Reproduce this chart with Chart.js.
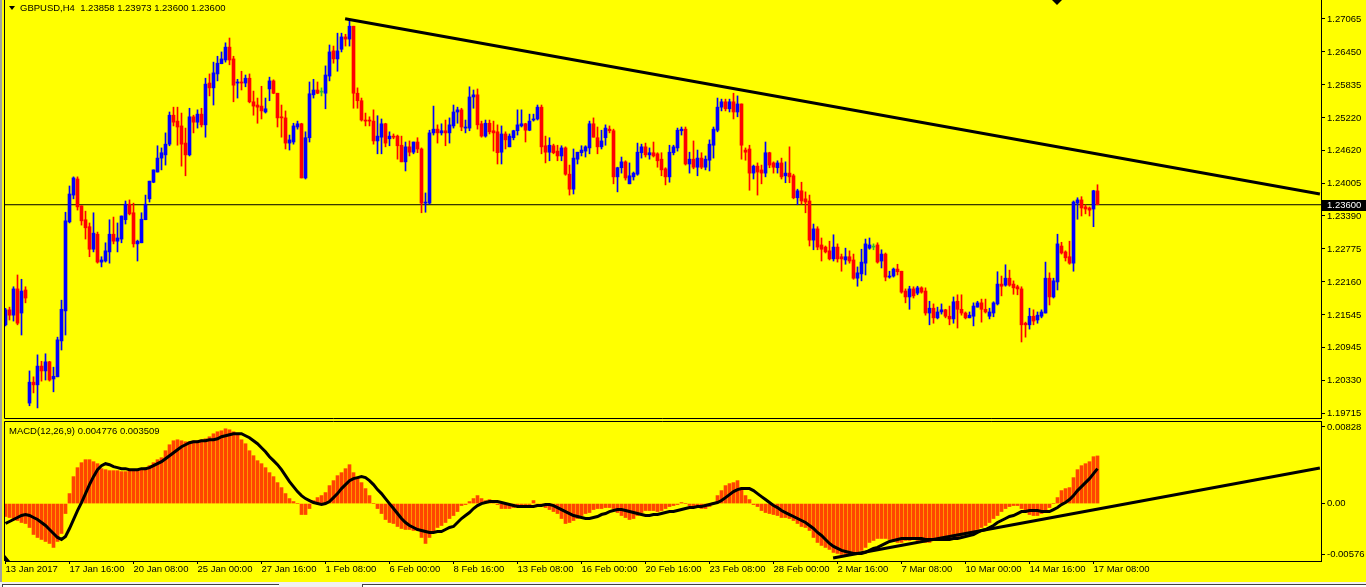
<!DOCTYPE html>
<html>
<head>
<meta charset="utf-8">
<title>GBPUSD,H4</title>
<script src="https://cdn.jsdelivr.net/npm/chart.js@4.4.1/dist/chart.umd.min.js"></script>
<style>
  html, body { margin: 0; padding: 0; }
  body {
    position: relative; width: 1366px; height: 587px; overflow: hidden;
    background: #ffff00; color: #000;
    font-family: 'Liberation Sans', Arial, sans-serif;
  }
  canvas { position: absolute; left: 0; }
  #priceChart { top: 0; }
  #macdChart { top: 420px; }
  .label { position: absolute; font-size: 9.5px; line-height: 11px; white-space: pre; }
  #title { left: 20px; top: 2px; }
  #macdTitle { left: 9px; top: 425px; }
  .tri { position: absolute; width: 0; height: 0; }
  #titleTri { left: 9px; top: 6px; border-left: 3px solid transparent; border-right: 3px solid transparent; border-top: 4px solid #000; }
  #shiftTri { left: 1052px; top: 0; border-left: 5px solid transparent; border-right: 5px solid transparent; border-top: 5px solid #000; }
  #cornerTri { left: 5px; top: 555px; border-bottom: 6px solid #000; border-right: 5px solid transparent; }
  #edge { position: absolute; left: 0; top: 0; width: 2px; height: 582px; background: #a0a0a0; }
  #tabs { position: absolute; left: 0; top: 582px; width: 1366px; height: 5px; background: #f0f0f0; }
  .tab { position: absolute; top: 2px; height: 3px; background: #fff; border-top: 1px solid #404040; border-left: 1px solid #404040; }
</style>
</head>
<body>
<canvas id="priceChart" width="1366" height="420"></canvas>
<canvas id="macdChart" width="1366" height="162"></canvas>
<div id="edge"></div>
<div class="tri" id="titleTri"></div>
<div class="label" id="title"></div>
<div class="label" id="macdTitle"></div>
<div class="tri" id="shiftTri"></div>
<div class="tri" id="cornerTri"></div>
<div id="tabs">
  <div class="tab" style="left:2px;width:276px"></div>
  <div class="tab" style="left:362px;width:1004px"></div>
</div>
<script>
// GBPUSD H4, 13 Jan 2017 00:00 .. 17 Mar 2017 12:00 (274 bars)
const symbol = 'GBPUSD';
const period = 'H4';

const opens = [
  1.2136,1.2164,1.2154,1.2203,1.2158,1.2201,1.1990,1.2029,1.2024,1.2059,
  1.2050,1.2067,1.2035,1.2039,1.2106,1.2162,1.2328,1.2378,1.2408,1.2358,
  1.2332,1.2319,1.2277,1.2305,1.2253,1.2255,1.2272,1.2305,1.2292,1.2296,
  1.2332,1.2361,1.2345,1.2287,1.2289,1.2332,1.2371,1.2402,1.2421,1.2447,
  1.2453,1.2473,1.2527,1.2516,1.2507,1.2475,1.2453,1.2524,1.2514,1.2529,
  1.2509,1.2587,1.2578,1.2604,1.2623,1.2630,1.2654,1.2632,1.2587,1.2589,
  1.2587,1.2596,1.2552,1.2546,1.2544,1.2533,1.2576,1.2591,1.2568,1.2524,
  1.2522,1.2475,1.2477,1.2505,1.2511,1.2410,1.2485,1.2565,1.2574,1.2570,
  1.2568,1.2600,1.2647,1.2632,1.2650,1.2673,1.2669,1.2693,1.2568,1.2554,
  1.2518,1.2518,1.2516,1.2479,1.2486,1.2511,1.2483,1.2488,1.2488,1.2471,
  1.2440,1.2468,1.2458,1.2477,1.2464,1.2363,1.2363,1.2494,1.2501,1.2494,
  1.2498,1.2494,1.2507,1.2533,1.2537,1.2503,1.2503,1.2561,1.2565,1.2511,
  1.2488,1.2512,1.2498,1.2496,1.2458,1.2492,1.2468,1.2485,1.2498,1.2507,
  1.2511,1.2499,1.2518,1.2520,1.2542,1.2470,1.2458,1.2470,1.2460,1.2451,
  1.2466,1.2417,1.2389,1.2445,1.2457,1.2460,1.2466,1.2511,1.2485,1.2468,
  1.2485,1.2501,1.2498,1.2412,1.2429,1.2440,1.2399,1.2412,1.2417,1.2457,
  1.2468,1.2453,1.2457,1.2455,1.2445,1.2427,1.2412,1.2457,1.2466,1.2498,
  1.2501,1.2436,1.2445,1.2430,1.2447,1.2430,1.2443,1.2471,1.2499,1.2542,
  1.2552,1.2539,1.2552,1.2533,1.2548,1.2462,1.2464,1.2419,1.2432,1.2425,
  1.2419,1.2457,1.2438,1.2429,1.2438,1.2414,1.2419,1.2414,1.2373,1.2386,
  1.2371,1.2367,1.2294,1.2315,1.2285,1.2281,1.2274,1.2259,1.2281,1.2263,
  1.2257,1.2263,1.2257,1.2223,1.2231,1.2251,1.2279,1.2281,1.2285,1.2255,
  1.2268,1.2225,1.2227,1.2240,1.2236,1.2199,1.2188,1.2203,1.2195,1.2205,
  1.2199,1.2158,1.2167,1.2149,1.2160,1.2164,1.2152,1.2147,1.2180,1.2165,
  1.2158,1.2149,1.2152,1.2169,1.2177,1.2165,1.2152,1.2158,1.2175,1.2212,
  1.2210,1.2223,1.2212,1.2207,1.2203,1.2139,1.2136,1.2152,1.2145,1.2152,
  1.2158,1.2223,1.2188,1.2216,1.2283,1.2272,1.2263,1.2251,1.2363,1.2369,
  1.2356,1.2354,1.2352,1.23858
];
const highs = [
  1.2167,1.2169,1.2207,1.2229,1.2221,1.2207,1.2050,1.2039,1.2080,1.2068,
  1.2082,1.2068,1.2057,1.2113,1.2182,1.2346,1.2395,1.2412,1.2412,1.2358,
  1.2348,1.2326,1.2345,1.2309,1.2263,1.2289,1.2332,1.2337,1.2326,1.2339,
  1.2367,1.2369,1.2363,1.2294,1.2345,1.2378,1.2404,1.2425,1.2470,1.2466,
  1.2494,1.2533,1.2542,1.2542,1.2531,1.2503,1.2540,1.2527,1.2537,1.2540,
  1.2596,1.2604,1.2626,1.2637,1.2645,1.2662,1.2671,1.2637,1.2594,1.2609,
  1.2602,1.2604,1.2572,1.2559,1.2581,1.2559,1.2598,1.2593,1.2568,1.2546,
  1.2535,1.2490,1.2512,1.2516,1.2512,1.2496,1.2589,1.2594,1.2589,1.2578,
  1.2619,1.2658,1.2656,1.2680,1.2680,1.2678,1.2705,1.2693,1.2578,1.2559,
  1.2531,1.2524,1.2537,1.2526,1.2520,1.2512,1.2496,1.2492,1.2490,1.2488,
  1.2477,1.2479,1.2477,1.2485,1.2466,1.2382,1.2499,1.2544,1.2509,1.2511,
  1.2518,1.2522,1.2546,1.2542,1.2540,1.2518,1.2580,1.2574,1.2576,1.2516,
  1.2518,1.2518,1.2516,1.2509,1.2507,1.2496,1.2492,1.2499,1.2537,1.2537,
  1.2512,1.2529,1.2529,1.2546,1.2546,1.2488,1.2485,1.2473,1.2471,1.2470,
  1.2468,1.2434,1.2464,1.2458,1.2470,1.2470,1.2516,1.2522,1.2505,1.2499,
  1.2509,1.2507,1.2501,1.2430,1.2449,1.2442,1.2438,1.2421,1.2475,1.2473,
  1.2475,1.2466,1.2477,1.2457,1.2457,1.2429,1.2471,1.2471,1.2503,1.2505,
  1.2505,1.2458,1.2479,1.2462,1.2457,1.2451,1.2481,1.2505,1.2559,1.2557,
  1.2557,1.2557,1.2568,1.2563,1.2548,1.2466,1.2471,1.2434,1.2438,1.2434,
  1.2477,1.2458,1.2440,1.2442,1.2447,1.2440,1.2468,1.2417,1.2389,1.2402,
  1.2384,1.2378,1.2324,1.2319,1.2298,1.2283,1.2292,1.2304,1.2287,1.2268,
  1.2279,1.2274,1.2268,1.2244,1.2277,1.2296,1.2298,1.2287,1.2289,1.2276,
  1.2270,1.2236,1.2242,1.2249,1.2236,1.2203,1.2208,1.2207,1.2208,1.2207,
  1.2205,1.2180,1.2175,1.2169,1.2175,1.2165,1.2171,1.2188,1.2192,1.2192,
  1.2160,1.2160,1.2177,1.2180,1.2184,1.2184,1.2167,1.2179,1.2235,1.2227,
  1.2248,1.2238,1.2218,1.2210,1.2207,1.2141,1.2167,1.2164,1.2160,1.2164,
  1.2253,1.2233,1.2223,1.2305,1.2290,1.2274,1.2292,1.2367,1.2373,1.2375,
  1.2360,1.2356,1.2387,1.23973
];
const lows = [
  1.2134,1.2145,1.2143,1.2136,1.2117,1.2177,1.1985,1.2009,1.1981,1.2031,
  1.2033,1.2031,1.2011,1.2039,1.2089,1.2117,1.2326,1.2371,1.2350,1.2322,
  1.2296,1.2263,1.2272,1.2251,1.2244,1.2253,1.2251,1.2287,1.2272,1.2289,
  1.2324,1.2341,1.2281,1.2255,1.2289,1.2332,1.2365,1.2401,1.2421,1.2425,
  1.2434,1.2470,1.2507,1.2471,1.2432,1.2414,1.2451,1.2494,1.2503,1.2505,
  1.2486,1.2563,1.2546,1.2591,1.2623,1.2626,1.2621,1.2552,1.2559,1.2574,
  1.2580,1.2550,1.2527,1.2512,1.2520,1.2531,1.2554,1.2567,1.2505,1.2486,
  1.2464,1.2462,1.2473,1.2501,1.2410,1.2408,1.2477,1.2559,1.2567,1.2563,
  1.2539,1.2591,1.2624,1.2609,1.2645,1.2656,1.2656,1.2540,1.2540,1.2516,
  1.2507,1.2507,1.2473,1.2455,1.2455,1.2468,1.2470,1.2483,1.2445,1.2440,
  1.2423,1.2451,1.2455,1.2457,1.2345,1.2346,1.2361,1.2490,1.2475,1.2490,
  1.2470,1.2475,1.2503,1.2512,1.2498,1.2494,1.2498,1.2540,1.2501,1.2486,
  1.2486,1.2492,1.2460,1.2436,1.2436,1.2464,1.2468,1.2481,1.2490,1.2505,
  1.2477,1.2498,1.2516,1.2518,1.2455,1.2438,1.2442,1.2455,1.2442,1.2442,
  1.2415,1.2378,1.2380,1.2436,1.2451,1.2449,1.2455,1.2486,1.2455,1.2464,
  1.2471,1.2494,1.2399,1.2384,1.2419,1.2406,1.2399,1.2406,1.2415,1.2447,
  1.2449,1.2445,1.2449,1.2430,1.2414,1.2397,1.2402,1.2453,1.2460,1.2490,
  1.2434,1.2419,1.2427,1.2414,1.2427,1.2425,1.2423,1.2447,1.2496,1.2535,
  1.2535,1.2533,1.2520,1.2524,1.2445,1.2443,1.2387,1.2408,1.2378,1.2399,
  1.2412,1.2429,1.2419,1.2419,1.2408,1.2401,1.2401,1.2371,1.2360,1.2361,
  1.2345,1.2283,1.2276,1.2276,1.2255,1.2270,1.2257,1.2255,1.2253,1.2236,
  1.2249,1.2251,1.2221,1.2208,1.2218,1.2229,1.2277,1.2276,1.2251,1.2242,
  1.2218,1.2223,1.2225,1.2229,1.2195,1.2177,1.2165,1.2186,1.2192,1.2195,
  1.2154,1.2136,1.2139,1.2147,1.2156,1.2149,1.2136,1.2139,1.2130,1.2154,
  1.2147,1.2149,1.2134,1.2169,1.2141,1.2158,1.2147,1.2151,1.2173,1.2190,
  1.2208,1.2208,1.2193,1.2192,1.2104,1.2113,1.2128,1.2136,1.2139,1.2149,
  1.2158,1.2173,1.2186,1.2201,1.2268,1.2255,1.2249,1.2236,1.2333,1.2339,
  1.2343,1.2339,1.2319,1.23600
];
const closes = [
  1.2164,1.2154,1.2203,1.2139,1.2199,1.2186,1.2029,1.2024,1.2059,1.2050,
  1.2067,1.2033,1.2040,1.2108,1.2165,1.2330,1.2380,1.2410,1.2356,1.2330,
  1.2317,1.2277,1.2307,1.2253,1.2257,1.2274,1.2305,1.2292,1.2298,1.2339,
  1.2361,1.2343,1.2287,1.2292,1.2333,1.2361,1.2404,1.2425,1.2447,1.2457,
  1.2473,1.2527,1.2514,1.2505,1.2473,1.2453,1.2524,1.2514,1.2529,1.2509,
  1.2585,1.2578,1.2606,1.2624,1.2632,1.2654,1.2630,1.2583,1.2589,1.2587,
  1.2596,1.2552,1.2544,1.2542,1.2535,1.2539,1.2591,1.2568,1.2522,1.2522,
  1.2475,1.2481,1.2507,1.2511,1.2410,1.2485,1.2567,1.2574,1.2568,1.2570,
  1.2602,1.2645,1.2632,1.2647,1.2673,1.2669,1.2693,1.2568,1.2554,1.2518,
  1.2516,1.2516,1.2479,1.2488,1.2511,1.2475,1.2488,1.2486,1.2470,1.2440,
  1.2468,1.2458,1.2477,1.2464,1.2363,1.2365,1.2494,1.2501,1.2494,1.2498,
  1.2494,1.2509,1.2533,1.2537,1.2505,1.2505,1.2561,1.2565,1.2509,1.2488,
  1.2512,1.2496,1.2494,1.2457,1.2492,1.2481,1.2488,1.2498,1.2509,1.2511,
  1.2499,1.2516,1.2520,1.2542,1.2468,1.2458,1.2471,1.2457,1.2451,1.2466,
  1.2417,1.2389,1.2447,1.2458,1.2462,1.2468,1.2511,1.2486,1.2468,1.2479,
  1.2503,1.2498,1.2412,1.2429,1.2440,1.2410,1.2414,1.2419,1.2458,1.2468,
  1.2453,1.2457,1.2451,1.2442,1.2425,1.2412,1.2458,1.2468,1.2499,1.2501,
  1.2436,1.2445,1.2430,1.2447,1.2430,1.2445,1.2473,1.2501,1.2542,1.2552,
  1.2539,1.2552,1.2533,1.2548,1.2471,1.2458,1.2419,1.2432,1.2421,1.2419,
  1.2457,1.2434,1.2430,1.2438,1.2412,1.2419,1.2412,1.2373,1.2386,1.2367,
  1.2365,1.2294,1.2315,1.2281,1.2277,1.2272,1.2259,1.2281,1.2259,1.2259,
  1.2263,1.2255,1.2223,1.2233,1.2253,1.2287,1.2285,1.2281,1.2253,1.2268,
  1.2225,1.2227,1.2240,1.2235,1.2197,1.2188,1.2203,1.2190,1.2205,1.2197,
  1.2158,1.2167,1.2149,1.2160,1.2164,1.2152,1.2147,1.2179,1.2165,1.2158,
  1.2149,1.2154,1.2171,1.2177,1.2165,1.2160,1.2160,1.2177,1.2212,1.2208,
  1.2223,1.2210,1.2205,1.2203,1.2136,1.2136,1.2152,1.2143,1.2154,1.2160,
  1.2223,1.2188,1.2218,1.2287,1.2270,1.2261,1.2251,1.2365,1.2369,1.2354,
  1.2352,1.2350,1.2386,1.23600
];

// MACD(12,26,9): main line drawn as histogram, signal as line
const macdMain = [
  -0.0013,-0.0014,-0.0015,-0.0017,-0.0019,-0.0020,-0.0024,-0.0031,-0.0034,-0.0036,
  -0.0038,-0.0040,-0.0044,-0.0038,-0.0030,-0.0010,0.0010,0.0027,0.0036,0.0041,
  0.0044,0.0044,0.0042,0.0040,0.0035,0.0034,0.0033,0.0033,0.0033,0.0032,
  0.0032,0.0033,0.0033,0.0034,0.0035,0.0036,0.0038,0.0041,0.0044,0.0046,
  0.0053,0.0059,0.0063,0.0064,0.0063,0.0062,0.0062,0.0063,0.0063,0.0064,
  0.0065,0.0067,0.0070,0.0072,0.0073,0.0075,0.0074,0.0072,0.0069,0.0064,
  0.0060,0.0053,0.0048,0.0043,0.0040,0.0036,0.0031,0.0027,0.0021,0.0016,
  0.0010,0.0005,0.0002,0.0000,-0.0011,-0.0011,-0.0005,0.0003,0.0006,0.0008,
  0.0011,0.0018,0.0023,0.0028,0.0031,0.0035,0.0039,0.0031,0.0026,0.0021,
  0.0015,0.0008,0.0000,-0.0005,-0.0010,-0.0016,-0.0019,-0.0020,-0.0023,-0.0025,
  -0.0026,-0.0026,-0.0027,-0.0027,-0.0034,-0.0040,-0.0034,-0.0029,-0.0024,-0.0022,
  -0.0019,-0.0015,-0.0012,-0.0008,-0.0002,-0.0001,0.0002,0.0005,0.0008,0.0005,
  0.0003,0.0004,0.0002,-0.0001,-0.0005,-0.0005,-0.0005,-0.0004,-0.0002,-0.0001,
  -0.0001,-0.0001,0.0003,-0.0001,-0.0002,-0.0004,-0.0006,-0.0008,-0.0010,-0.0015,
  -0.0020,-0.0019,-0.0017,-0.0015,-0.0012,-0.0010,-0.0009,-0.0006,-0.0005,-0.0005,
  -0.0004,-0.0004,-0.0005,-0.0009,-0.0012,-0.0014,-0.0016,-0.0015,-0.0012,-0.0009,
  -0.0007,-0.0007,-0.0007,-0.0008,-0.0007,-0.0005,-0.0003,-0.0002,-0.0001,0.0001,
  0.0000,-0.0002,-0.0003,-0.0004,-0.0005,-0.0005,-0.0003,0.0001,0.0008,0.0013,
  0.0018,0.0020,0.0021,0.0023,0.0016,0.0008,0.0004,-0.0001,-0.0003,-0.0007,
  -0.0009,-0.0010,-0.0011,-0.0012,-0.0014,-0.0014,-0.0015,-0.0017,-0.0020,-0.0023,
  -0.0024,-0.0027,-0.0034,-0.0039,-0.0042,-0.0044,-0.0046,-0.0049,-0.0050,-0.0051,
  -0.0052,-0.0052,-0.0050,-0.0049,-0.0047,-0.0044,-0.0039,-0.0037,-0.0035,-0.0035,
  -0.0035,-0.0036,-0.0038,-0.0039,-0.0039,-0.0037,-0.0037,-0.0036,-0.0037,-0.0037,
  -0.0039,-0.0039,-0.0037,-0.0037,-0.0035,-0.0035,-0.0034,-0.0034,-0.0034,-0.0032,
  -0.0030,-0.0030,-0.0029,-0.0026,-0.0024,-0.0022,-0.0019,-0.0015,-0.0012,-0.0008,
  -0.0005,-0.0003,-0.0002,-0.0002,-0.0005,-0.0009,-0.0011,-0.0012,-0.0012,-0.0010,
  -0.0007,-0.0004,0.0000,0.0006,0.0013,0.0015,0.0016,0.0026,0.0034,0.0038,
  0.0040,0.0042,0.0047,0.004776
];
const macdSignal = [
  -0.0020,-0.0018,-0.0016,-0.0014,-0.0012,-0.0011,-0.0012,-0.0014,-0.0016,-0.0019,
  -0.0022,-0.0026,-0.0030,-0.0034,-0.0036,-0.0033,-0.0025,-0.0016,-0.0007,0.0001,
  0.0010,0.0019,0.0027,0.0034,0.0038,0.0040,0.0039,0.0037,0.0036,0.0035,
  0.0035,0.0034,0.0034,0.0034,0.0035,0.0035,0.0036,0.0038,0.0040,0.0042,
  0.0045,0.0048,0.0051,0.0054,0.0057,0.0059,0.0061,0.0062,0.0062,0.0063,
  0.0063,0.0064,0.0064,0.0065,0.0067,0.0068,0.0069,0.0070,0.0070,0.0070,
  0.0068,0.0066,0.0063,0.0060,0.0056,0.0052,0.0047,0.0043,0.0039,0.0034,
  0.0028,0.0022,0.0017,0.0012,0.0008,0.0005,0.0003,0.0001,0.0000,-0.0001,
  0.0000,0.0002,0.0006,0.0010,0.0015,0.0019,0.0023,0.0025,0.0026,0.0027,
  0.0026,0.0023,0.0019,0.0014,0.0010,0.0005,0.0000,-0.0005,-0.0010,-0.0015,
  -0.0019,-0.0022,-0.0024,-0.0026,-0.0027,-0.0028,-0.0029,-0.0029,-0.0028,-0.0028,
  -0.0026,-0.0024,-0.0023,-0.0019,-0.0015,-0.0012,-0.0009,-0.0005,-0.0002,0.0000,
  0.0001,0.0002,0.0002,0.0002,0.0001,0.0000,-0.0001,-0.0002,-0.0003,-0.0003,
  -0.0003,-0.0003,-0.0003,-0.0002,-0.0002,-0.0001,-0.0001,-0.0002,-0.0004,-0.0006,
  -0.0008,-0.0010,-0.0012,-0.0013,-0.0014,-0.0015,-0.0015,-0.0014,-0.0013,-0.0011,
  -0.0010,-0.0008,-0.0007,-0.0006,-0.0006,-0.0007,-0.0008,-0.0009,-0.0010,-0.0011,
  -0.0012,-0.0012,-0.0011,-0.0011,-0.0010,-0.0009,-0.0008,-0.0008,-0.0007,-0.0006,
  -0.0005,-0.0004,-0.0004,-0.0003,-0.0003,-0.0002,-0.0001,0.0000,0.0001,0.0003,
  0.0006,0.0009,0.0012,0.0014,0.0015,0.0015,0.0015,0.0013,0.0010,0.0007,
  0.0004,0.0001,-0.0002,-0.0004,-0.0007,-0.0009,-0.0011,-0.0013,-0.0015,-0.0017,
  -0.0019,-0.0022,-0.0025,-0.0029,-0.0032,-0.0036,-0.0040,-0.0043,-0.0045,-0.0047,
  -0.0048,-0.0049,-0.0050,-0.0050,-0.0050,-0.0049,-0.0047,-0.0045,-0.0044,-0.0042,
  -0.0040,-0.0038,-0.0037,-0.0036,-0.0035,-0.0035,-0.0035,-0.0035,-0.0035,-0.0035,
  -0.0036,-0.0036,-0.0036,-0.0036,-0.0036,-0.0036,-0.0036,-0.0035,-0.0035,-0.0034,
  -0.0033,-0.0032,-0.0031,-0.0029,-0.0027,-0.0026,-0.0024,-0.0022,-0.0019,-0.0017,
  -0.0015,-0.0013,-0.0012,-0.0010,-0.0008,-0.0008,-0.0007,-0.0007,-0.0007,-0.0008,
  -0.0008,-0.0008,-0.0006,-0.0004,-0.0001,0.0001,0.0004,0.0008,0.0013,0.0017,
  0.0021,0.0025,0.0030,0.003509
];

// axis labels
const dateLabels = [
  '13 Jan 2017', '17 Jan 16:00', '20 Jan 08:00', '25 Jan 00:00', '27 Jan 16:00', '1 Feb 08:00',
  '6 Feb 00:00', '8 Feb 16:00', '13 Feb 08:00', '16 Feb 00:00', '20 Feb 16:00', '23 Feb 08:00',
  '28 Feb 00:00', '2 Mar 16:00', '7 Mar 08:00', '10 Mar 00:00', '14 Mar 16:00', '17 Mar 08:00'
];
const LABEL_STEP = 16; // bars between date labels
const priceTicks = [1.27065, 1.26450, 1.25835, 1.25220, 1.24620, 1.24005, 1.23390,
                    1.22775, 1.22160, 1.21545, 1.20945, 1.20330, 1.19715];
const macdTickLabels = ['0.00828', '0.00', '-0.00576'];

// hand drawn trend lines (bar index, value)
const trendMain = [{ x: 84.9, y: 1.2707 }, { x: 328.6, y: 1.2380 }];
const trendMacd = [{ x: 206.9, y: -0.00546 }, { x: 328.6, y: 0.00357 }];

// visible window
const X_MIN = -0.125, X_MAX = 328.875;   // includes the empty right shift area
const PRICE_MIN = 1.19622, PRICE_MAX = 1.27419;
const MACD_MIN = -0.00576, MACD_MAX = 0.00828;

const BULL = '#0000ff', BEAR = '#ff0000', DOJI = '#33bb33', HIST = '#ff4500';
const FONT = "'Liberation Sans', Arial, sans-serif";
const FONT_SIZE = 9.5;

Chart.defaults.font.family = FONT;
Chart.defaults.font.size = FONT_SIZE;
Chart.defaults.color = '#000';

const bars = opens.map((_, i) => i);
const candleColors = bars.map(i => closes[i] > opens[i] ? BULL : closes[i] < opens[i] ? BEAR : DOJI);
const lastClose = closes[closes.length - 1];

document.getElementById('title').textContent =
  symbol + ',' + period + '  ' + [opens, highs, lows, closes].map(a => a[a.length - 1].toFixed(5)).join(' ');
document.getElementById('macdTitle').textContent =
  'MACD(12,26,9) ' + macdMain[macdMain.length - 1].toFixed(6) + ' ' + macdSignal[macdSignal.length - 1].toFixed(6);

// window frame (left + bottom, or left + top for the sub window)
const framePlugin = {
  id: 'frame',
  afterDraw(chart, args, opts) {
    const { ctx, chartArea: a } = chart;
    ctx.save();
    ctx.strokeStyle = '#000';
    ctx.lineWidth = 1;
    ctx.beginPath();
    if (opts.top) {
      ctx.moveTo(a.right, a.top + 0.5);
      ctx.lineTo(a.left - 0.5, a.top + 0.5);
      ctx.lineTo(a.left - 0.5, a.bottom);
    } else {
      ctx.moveTo(a.left - 0.5, a.top);
      ctx.lineTo(a.left - 0.5, a.bottom + 0.5);
      ctx.lineTo(a.right, a.bottom + 0.5);
    }
    ctx.stroke();
    ctx.restore();
  }
};

// black bid price box on the price scale
const bidPlugin = {
  id: 'bid',
  afterDraw(chart) {
    const { ctx, chartArea: a, scales } = chart;
    const y = Math.round(scales.y.getPixelForValue(lastClose));
    ctx.save();
    ctx.fillStyle = '#000';
    ctx.fillRect(a.right + 1, y - 5, chart.width - a.right - 1, 11);
    ctx.fillStyle = '#fff';
    ctx.font = FONT_SIZE + 'px ' + FONT;
    ctx.textBaseline = 'middle';
    ctx.fillText(lastClose.toFixed(5), a.right + 6, y + 0.5);
    ctx.restore();
  }
};

const rightAxis = (min, max) => ({
  position: 'right', min: min, max: max, beginAtZero: false,
  grid: { display: true, drawOnChartArea: false, drawTicks: true, tickLength: 4, color: '#000' },
  border: { display: true, color: '#000' },
  ticks: { color: '#000', padding: 2, autoSkip: false },
  afterFit: s => { s.width = 45; s.paddingTop = 0; s.paddingBottom = 0; }
});

const common = {
  responsive: false, animation: false, devicePixelRatio: 1, events: [],
};

// price window
const priceY = rightAxis(PRICE_MIN, PRICE_MAX);
priceY.ticks.callback = v => v.toFixed(5);
priceY.afterBuildTicks = s => { s.ticks = priceTicks.map(v => ({ value: v })); };

new Chart(document.getElementById('priceChart'), {
  type: 'bar',
  data: {
    datasets: [
      { type: 'line', data: [{ x: X_MIN, y: lastClose }, { x: X_MAX, y: lastClose }],
        borderColor: '#000', borderWidth: 1, pointRadius: 0, order: 4 },
      { data: bars.map(i => ({ x: i, y: [lows[i], highs[i]] })),
        backgroundColor: candleColors, barThickness: 1, grouped: false, order: 3 },
      { data: bars.map(i => ({ x: i, y: [opens[i], closes[i]] })),
        backgroundColor: candleColors, barThickness: 3, minBarLength: 1, grouped: false, order: 2 },
      { type: 'line', data: trendMain, borderColor: '#000', borderWidth: 3, pointRadius: 0, order: 1 }
    ]
  },
  options: Object.assign({}, common, {
    layout: { padding: { left: 5, top: 0, right: 0, bottom: 2 } },
    plugins: { legend: { display: false }, tooltip: { enabled: false }, frame: { top: false } },
    scales: {
      x: { type: 'linear', min: X_MIN, max: X_MAX, offset: false, display: false },
      y: priceY
    }
  }),
  plugins: [framePlugin, bidPlugin]
});

// MACD window
const macdY = rightAxis(MACD_MIN, MACD_MAX);
macdY.ticks.callback = (v, i) => macdTickLabels[i];
// MT4 keeps the max/min labels just inside the window
macdY.afterBuildTicks = s => {
  s.ticks = [{ value: MACD_MAX - 0.0006 }, { value: 0 }, { value: MACD_MIN + 0.0007 }];
};

new Chart(document.getElementById('macdChart'), {
  type: 'bar',
  data: {
    datasets: [
      { data: bars.map(i => ({ x: i, y: macdMain[i] })),
        backgroundColor: HIST, barThickness: 3, grouped: false, order: 3 },
      { type: 'line', data: bars.map(i => ({ x: i, y: macdSignal[i] })),
        borderColor: '#000', borderWidth: 3, pointRadius: 0, order: 2 },
      { type: 'line', data: trendMacd, borderColor: '#000', borderWidth: 3, pointRadius: 0, order: 1 }
    ]
  },
  options: Object.assign({}, common, {
    layout: { padding: { left: 5, top: 1, right: 0, bottom: 0 } },
    plugins: { legend: { display: false }, tooltip: { enabled: false }, frame: { top: true } },
    scales: {
      x: {
        type: 'linear', min: X_MIN, max: X_MAX, offset: false,
        grid: { display: true, drawOnChartArea: false, drawTicks: true, tickLength: 3, color: '#000', offset: false },
        border: { display: true, color: '#000' },
        ticks: { color: '#000', padding: 0, align: 'start', maxRotation: 0, autoSkip: false,
                 callback: (v, i) => dateLabels[i] },
        afterBuildTicks: s => { s.ticks = dateLabels.map((_, k) => ({ value: k * LABEL_STEP })); },
        afterFit: s => { s.height = 21; s.paddingLeft = 0; s.paddingRight = 0; }
      },
      y: macdY
    }
  }),
  plugins: [framePlugin]
});
</script>
</body>
</html>
